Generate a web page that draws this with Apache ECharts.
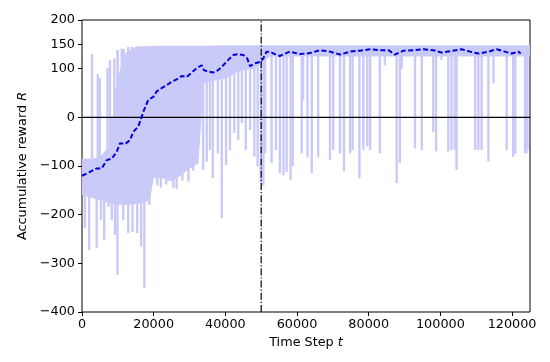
<!DOCTYPE html>
<html>
<head>
<meta charset="utf-8">
<script src="https://cdn.jsdelivr.net/npm/echarts@6/dist/echarts.min.js"></script>
<style>html,body{margin:0;padding:0;background:#fff}#c{width:550px;height:362px}</style>
</head>
<body>
<div id="c"></div>
<script>
// ---- data ----
const xTicks = [0, 20000, 40000, 60000, 80000, 100000, 120000];
const yTicks = [-400, -300, -200, -100, 0, 100, 150, 200];

// dense envelope of the raw episode rewards
const bandX    = [0, 2500, 5000, 7500, 9500, 11000, 12500, 15000, 17500, 19000, 20000, 22500, 25000, 27500, 30000, 32500, 34000, 40000, 44000, 48000, 50000, 52500, 125000];
const bandHigh = [-85, -85, -82, -60, 60, 110, 135, 145, 146, 146, 147, 147, 147, 147, 147, 147, 147, 148, 148, 148, 148, 148, 148];
const bandLow  = [-160, -165, -170, -175, -180, -180, -180, -178, -175, -170, -125, -125, -132, -120, -105, -95, 70, 80, 95, 100, 112, 125, 125];

// individual raw-reward excursions: x, upper end, lower end
const spikeX = [800, 2000, 2800, 4100, 4400, 5000, 5300, 6200, 7100, 7400, 7800, 8300, 9000, 9200, 9900, 10000, 11100, 11500, 11700, 12900, 13900, 14100, 15400, 16500, 17400, 18500, 18800, 21000, 22000, 23500, 25500, 26400, 28000, 29700, 31000, 33800, 34800, 35700, 36500, 37900, 39000, 40200, 41300, 42500, 43600, 44600, 45700, 46900, 48100, 49000, 49900, 50600, 51100, 52900, 54100, 55200, 56200, 57100, 58200, 58800, 61300, 61700, 62900, 64100, 65900, 69200, 70100, 72000, 73100, 74800, 75500, 77400, 78500, 79600, 80400, 83100, 84500, 87800, 88700, 89200, 92900, 94800, 98000, 98800, 100300, 102200, 103100, 104000, 104500, 109700, 110600, 111500, 113400, 114800, 118500, 120300, 120900, 123600, 124000, 124300];
const spikeTop = [-85, -85, 130, -85, 89, 80, -85, -82, 101, -70, 118, 0, 121, 60, 138, 138, 141, 140, 140, 145, 145, 145, 146, 146, 146, 146, 146, 146, 146, 146, 146, 146, 146, 146, 146, 146, 146, 146, 146, 146, 146, 146, 146, 146, 146, 146, 146, 146, 146, 146, 146, 146, 146, 146, 146, 146, 146, 146, 146, 146, 146, 146, 146, 146, 146, 146, 146, 146, 146, 146, 146, 146, 146, 146, 146, 146, 146, 146, 146, 146, 146, 146, 146, 146, 146, 146, 146, 146, 146, 146, 146, 146, 146, 146, 146, 146, 146, 146, 146, 146];
const spikeLow = [-228, -273, -160, -268, -165, -170, -211, -252, -175, -184, -175, -211, -178, -242, -324, -180, -180, -211, -180, -238, -180, -235, -238, -266, -351, -173, -180, -140, -145, -138, -145, -147, -130, -132, -110, -108, -91, -67, -125, -74, -207, -98, -67, -32, -47, -12, -67, -26, -81, -101, -135, -140, -74, -94, -67, -115, -119, -112, -129, -100, -74, 36, -82, -115, -82, -88, -67, -74, -111, -74, -67, -125, -67, -60, -67, -74, 107, -135, -94, 100, -64, -67, -30, -70, 118, -70, -67, -67, -108, -67, -67, -67, -91, 70, -67, -81, -75, -74, -74, -67];

// smoothed (moving average) reward
const maX = [0, 2230, 4100, 5500, 6900, 8300, 9700, 10600, 12000, 13400, 14300, 15700, 16600, 17300, 18500, 19900, 20800, 22200, 23600, 25000, 26400, 27800, 29200, 30600, 32000, 33400, 34000, 35200, 36600, 38000, 39400, 40800, 42200, 43600, 45000, 46100, 46900, 48300, 49700, 50600, 51500, 52900, 54300, 55200, 58000, 60800, 63600, 66400, 69200, 72000, 74800, 77600, 80400, 83100, 85500, 87300, 89700, 92400, 95200, 98000, 100400, 102700, 105900, 108300, 110600, 113400, 115700, 118000, 119900, 121700, 122400];
const maY = [-120, -112, -105, -105, -88, -85, -71, -53, -55, -47, -30, -19, 0, 15, 36, 42, 53, 60, 66, 73, 78, 85, 83, 92, 101, 107, 97, 94, 92, 97, 107, 118, 128, 130, 128, 121, 105, 111, 114, 121, 135, 133, 128, 126, 135, 130, 132, 138, 135, 129, 135, 137, 140, 138, 138, 129, 137, 138, 140, 138, 133, 136, 140, 135, 131, 135, 140, 135, 131, 135, 131];

const zeroY = 0;
const vLineX = 50000;
const xMin = 0, xMax = 125000, yMin = -400, yMax = 200;

// ---- chart ----
const lav = '#cacaf8';
const font = 'DejaVu Sans';
const fs = 12.8;
const chart = echarts.init(document.getElementById('c'), null, {renderer: 'canvas'});

const spikeData = spikeX.map((x, i) => [x, spikeTop[i], spikeLow[i]]);
const maData = maX.map((x, i) => [x, maY[i]]);
const minus = v => String(v).replace('-', '\u2212');

chart.setOption({
  animation: false,
  backgroundColor: '#fff',
  grid: {left: 82, right: 20, top: 20, bottom: 50, show: true, borderColor: '#000', borderWidth: 1, backgroundColor: 'transparent'},
  xAxis: {
    type: 'value', min: xMin, max: xMax,
    name: 'Time Step {i|t}', nameLocation: 'middle', nameGap: 24,
    nameTextStyle: {fontFamily: font, fontSize: fs, color: '#000', rich: {i: {fontStyle: 'italic', fontFamily: font, fontSize: fs}}},
    axisLine: {show: false, onZero: false},
    splitLine: {show: false},
    axisTick: {show: true, length: 4, lineStyle: {color: '#000'}, customValues: xTicks},
    axisLabel: {fontFamily: font, fontSize: fs, color: '#000', margin: 6, customValues: xTicks, formatter: v => String(v)}
  },
  yAxis: {
    type: 'value', min: yMin, max: yMax,
    name: 'Accumulative reward {i|R}', nameLocation: 'middle', nameGap: 50, nameRotate: 90,
    nameTextStyle: {fontFamily: font, fontSize: fs, color: '#000', rich: {i: {fontStyle: 'italic', fontFamily: font, fontSize: fs}}},
    axisLine: {show: false, onZero: false},
    splitLine: {show: false},
    axisTick: {show: true, length: 4, lineStyle: {color: '#000'}, customValues: yTicks},
    axisLabel: {fontFamily: font, fontSize: fs, color: '#000', margin: 7, customValues: yTicks, formatter: v => minus(v)}
  },
  series: [
    {
      type: 'custom', clip: true, silent: true, z: 1,
      data: [[0, 0]],
      renderItem: function (params, api) {
        const pts = [];
        for (let i = 0; i < bandX.length; i++) pts.push(api.coord([bandX[i], bandHigh[i]]));
        for (let i = bandX.length - 1; i >= 0; i--) pts.push(api.coord([bandX[i], bandLow[i]]));
        return {type: 'polygon', shape: {points: pts}, style: {fill: lav}};
      }
    },
    {
      type: 'custom', clip: true, silent: true, z: 1,
      data: spikeData,
      encode: {x: 0, y: [1, 2]},
      renderItem: function (params, api) {
        const a = api.coord([api.value(0), api.value(1)]);
        const b = api.coord([api.value(0), api.value(2)]);
        return {type: 'line', shape: {x1: a[0], y1: a[1], x2: b[0], y2: b[1]}, style: {stroke: lav, lineWidth: 2.4}};
      }
    },
    {
      type: 'custom', clip: true, silent: true, z: 10,
      data: [[0, 0]],
      renderItem: function (params, api) {
        const a = api.coord([xMin, zeroY]);
        const b = api.coord([xMax, zeroY]);
        const c = api.coord([vLineX, yMin]);
        const d = api.coord([vLineX, yMax]);
        return {
          type: 'group',
          children: [
            {type: 'line', shape: {x1: a[0], y1: a[1], x2: b[0], y2: b[1]}, style: {stroke: '#000', lineWidth: 1.4}},
            {type: 'line', shape: {x1: c[0], y1: c[1], x2: d[0], y2: d[1]}, style: {stroke: '#000', lineWidth: 1.2, lineDash: [7, 2, 1.2, 2]}}
          ]
        };
      }
    },
    {
      type: 'line', data: maData, showSymbol: false, symbol: 'none', z: 11,
      lineStyle: {color: '#0000dd', width: 2, type: [5, 2.5]}
    }
  ]
});
</script>
</body>
</html>
